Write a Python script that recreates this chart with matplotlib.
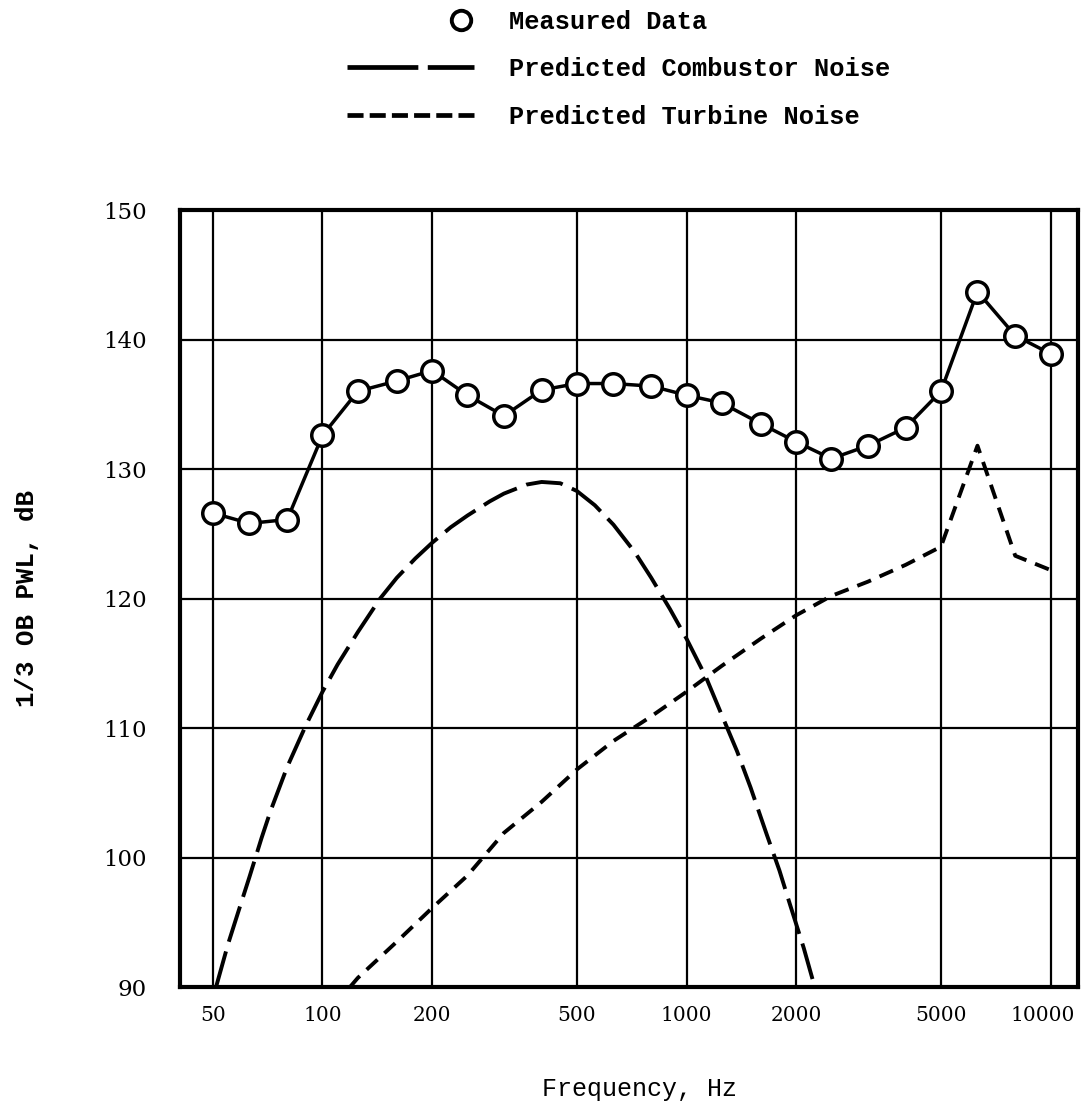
import numpy as np
import matplotlib
matplotlib.use("Agg")
import matplotlib.pyplot as plt
import matplotlib.transforms as mtransforms
from matplotlib.lines import Line2D
from matplotlib.legend_handler import HandlerLine2D

# 1/3 octave band centre frequencies, Hz
bands = [50, 63, 80, 100, 125, 160, 200, 250, 315, 400, 500, 630, 800,
         1000, 1250, 1600, 2000, 2500, 3150, 4000, 5000, 6300, 8000, 10000]
measured = [126.6, 125.8, 126.1, 132.6, 136.0, 136.8, 137.6, 135.7, 134.1,
            136.1, 136.6, 136.6, 136.4, 135.7, 135.1, 133.5, 132.1, 130.8,
            131.8, 133.2, 136.0, 143.7, 140.3, 138.9]

# points
comb_freq = [51, 55, 59, 63, 68, 72, 80, 90, 100, 110, 125, 144, 160, 180,
             200, 225, 250, 288, 315, 364, 400, 450, 500, 560, 630, 720,
             800, 900, 1000, 1132, 1250, 1377, 1500, 1660, 1800, 1928,
             2100, 2240]
comb_db = [90.0, 93.3, 96.0, 98.5, 101.5, 103.6, 107.0, 110.2, 112.8, 114.9,
           117.4, 120.0, 121.6, 123.1, 124.3, 125.5, 126.4, 127.5, 128.1,
           128.8, 129.0, 128.9, 128.3, 127.2, 125.7, 123.6, 121.6, 119.2,
           116.9, 113.9, 111.0, 108.2, 105.4, 101.8, 99.0, 96.3, 93.0, 90.2]

turb_freq = [119, 125, 160, 200, 250, 315, 400, 500, 630, 800, 1000, 1250,
             1600, 2000, 2500, 3150, 4000, 5000, 6300, 8000, 10000]
turb_db = [90.0, 90.7, 93.5, 96.1, 98.6, 101.9, 104.3, 106.8, 109.0, 110.9,
           112.8, 114.8, 116.9, 118.7, 120.2, 121.3, 122.6, 124.0, 131.8,
           123.3, 122.2]

xticks = [50, 100, 200, 500, 1000, 2000, 5000, 10000]
yticks = [90, 100, 110, 120, 130, 140, 150]

mono = "Liberation Mono"


class RightMarker(HandlerLine2D):
    # put the legend circle just left of the text, like the original
    def get_xdata(self, legend, xdescent, ydescent, width, height, fontsize):
        x = width - xdescent - 0.5 * fontsize
        return [x], [x]


fig = plt.figure(figsize=(10.83, 11.10), dpi=100)
ax = fig.add_axes([0.1662, 0.1108, 0.8292, 0.700])

ax.set_xscale("log")
ax.set_xlim(40.6, 11900)
ax.set_ylim(90, 150)

# grid
for f in xticks:
    ax.axvline(f, color="black", lw=1.6, zorder=1)
for v in yticks[1:-1]:
    ax.axhline(v, color="black", lw=1.6, zorder=1)

ax.plot(comb_freq, comb_db, color="black", lw=2.8,
        linestyle=(0, (9.5, 2.6)), zorder=2)
ax.plot(turb_freq, turb_db, color="black", lw=2.8,
        linestyle=(0, (3.8, 2.4)), zorder=2)
ax.plot(bands, measured, color="black", lw=2.5, marker="o", markersize=15.5,
        markerfacecolor="white", markeredgecolor="black",
        markeredgewidth=2.5, zorder=3, clip_on=False)

ax.set_xticks(xticks)
ax.set_xticklabels([str(t) for t in xticks])
ax.xaxis.set_minor_locator(matplotlib.ticker.NullLocator())
ax.set_yticks(yticks)
ax.tick_params(axis="both", length=0)
ax.tick_params(axis="x", pad=14, labelsize=14.5)
ax.tick_params(axis="y", pad=24, labelsize=16.5)
for lab in ax.get_xticklabels() + ax.get_yticklabels():
    lab.set_fontfamily("DejaVu Serif")
# last label sits against the right edge, nudge it in
last = ax.get_xticklabels()[-1]
last.set_transform(last.get_transform() +
                   mtransforms.ScaledTranslation(-8 / 100, 0, fig.dpi_scale_trans))

for s in ax.spines.values():
    s.set_linewidth(3.0)

ax.set_xlabel("Frequency, Hz", fontfamily=mono, fontsize=18)
ax.xaxis.set_label_coords(0.512, -0.116)
ax.set_ylabel("1/3 OB PWL, dB", fontfamily=mono, fontsize=18.5,
              fontweight="bold")
ax.yaxis.set_label_coords(-0.157, 0.5)

h_meas = Line2D([], [], linestyle="none", marker="o", markersize=14,
                markerfacecolor="white", markeredgecolor="black",
                markeredgewidth=2.8)
h_comb = Line2D([], [], color="black", lw=3.4, linestyle=(0, (15, 2)))
h_turb = Line2D([], [], color="black", lw=3.4, linestyle=(0, (3.4, 1.3)))
fig.legend([h_meas, h_comb, h_turb],
           ["Measured Data", "Predicted Combustor Noise",
            "Predicted Turbine Noise"],
           loc="upper left", bbox_to_anchor=(347 / 1083, 1 - 10 / 1110),
           frameon=False, borderpad=0, borderaxespad=0,
           handlelength=5.0, handletextpad=1.37, labelspacing=0.92,
           handler_map={h_meas: RightMarker(numpoints=1)},
           prop={"family": mono, "weight": "bold", "size": 18.3})

fig.savefig("out.png", dpi=100, facecolor="white")
